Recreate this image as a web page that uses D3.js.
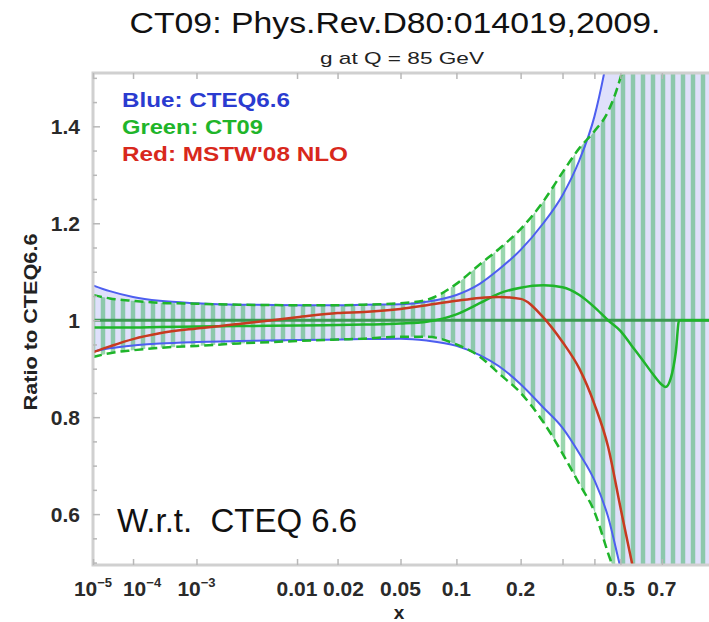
<!DOCTYPE html>
<meta charset="utf-8">
<script src="https://d3js.org/d3.v7.min.js"></script>
<style>
  body { margin: 0; background: #fff; }
  text { font-family: "Liberation Sans", Arial, sans-serif; }
</style>
<div id="my_dataviz"></div>
<script>

// x grid shared by every curve
const xs = [1e-5, 3e-5, 1e-4, 3e-4, 1e-3, 3e-3, 0.01, 0.02, 0.03, 0.05, 0.07, 0.1, 0.13, 0.16, 0.2,
            0.25, 0.3, 0.35, 0.4, 0.45, 0.5, 0.55, 0.6, 0.65, 0.7, 0.72, 0.75, 0.78, 0.8, 0.9, 1.0];

// CTEQ6.6 error band (blue)
const cteqUp = [1.072, 1.06, 1.048, 1.04, 1.035, 1.032, 1.031, 1.031, 1.032, 1.033, 1.038, 1.052, 1.075, 1.105, 1.145,
                1.2, 1.258, 1.33, 1.42, 1.55, 1.7, 1.85, 2.0, 2.1, 2.2, 2.2, 2.3, 2.3, 2.4, 2.5, 2.6];
const cteqLo = [0.935, 0.942, 0.948, 0.952, 0.955, 0.957, 0.959, 0.96, 0.961, 0.962, 0.958, 0.947, 0.928, 0.905, 0.868,
                0.82, 0.778, 0.725, 0.67, 0.595, 0.49, 0.4, 0.3, 0.2, 0.1, 0.1, 0.0, 0.0, 0.0, 0.0, 0.0];

// CT09 error band (green) and central value
const ct09Up = [1.052, 1.045, 1.04, 1.036, 1.034, 1.032, 1.031, 1.031, 1.032, 1.035, 1.042, 1.075, 1.115, 1.147, 1.188,
                1.245, 1.305, 1.355, 1.39, 1.43, 1.5, 1.6, 1.7, 1.8, 1.9, 1.9, 2.0, 2.0, 2.0, 2.0, 2.0];
const ct09Lo = [0.924, 0.932, 0.938, 0.943, 0.947, 0.952, 0.957, 0.96, 0.962, 0.966, 0.966, 0.95, 0.925, 0.89, 0.85,
                0.79, 0.725, 0.662, 0.605, 0.52, 0.44, 0.3, 0.2, 0.1, 0.0, 0.0, 0.0, 0.0, 0.0, 0.0, 0.0];
const ct09 = [0.985, 0.985, 0.985, 0.986, 0.987, 0.988, 0.989, 0.99, 0.991, 0.993, 0.997, 1.012, 1.035, 1.055, 1.067,
              1.072, 1.068, 1.052, 1.027, 1.0, 0.978, 0.947, 0.918, 0.89, 0.867, 0.862, 0.88, 0.935, 1.0, 1.0, 1.0];

// MSTW'08 NLO central value (red)
const mstw = [0.934, 0.946, 0.961, 0.973, 0.983, 0.992, 1.006, 1.015, 1.017, 1.023, 1.031, 1.04, 1.046, 1.048, 1.044,
              1.006, 0.955, 0.9, 0.827, 0.74, 0.614, 0.5, 0.4, 0.3, 0.2, 0.2, 0.1, 0.1, 0.1, 0.1, 0.1];

// axes
const xTicks = [1e-5, 1e-4, 1e-3, 0.01, 0.02, 0.05, 0.1, 0.2, 0.3, 0.4, 0.5, 0.7];
const xTickLabels = ["10^-5", "10^-4", "10^-3", "0.01", "0.02", "0.05", "0.1", "0.2", "", "", "0.5", "0.7"];
const yMajor = [0.6, 0.8, 1, 1.2, 1.4];
const yMinor = [0.5, 0.55, 0.65, 0.7, 0.75, 0.85, 0.9, 0.95, 1.05, 1.1, 1.15, 1.25, 1.3, 1.35, 1.45, 1.5];

const legendLabels = ["Blue: CTEQ6.6", "Green: CT09", "Red: MSTW'08 NLO"];
const legendColors = ["#2a3bd0", "#1fb52a", "#d8281c"];

const width = 709, height = 622;
const margin = {top: 73, right: 0, bottom: 57, left: 93};

const svg = d3.select("#my_dataviz")
  .append("svg")
    .attr("width", width)
    .attr("height", height);

// x is drawn on an x^0.2 scale
const x = d3.scalePow().exponent(0.2)
  .domain([1e-5, 1])
  .range([margin.left, width - margin.right]);
const y = d3.scaleLinear()
  .domain([0.495, 1.51])
  .range([height - margin.bottom, margin.top]);

const defs = svg.append("defs");
defs.append("clipPath").attr("id", "plotclip")
  .append("rect")
    .attr("x", margin.left).attr("y", margin.top)
    .attr("width", width - margin.left - margin.right)
    .attr("height", height - margin.top - margin.bottom);

const pat = defs.append("pattern")
    .attr("id", "hatch")
    .attr("patternUnits", "userSpaceOnUse")
    .attr("width", 10).attr("height", 20);
pat.append("line")
    .attr("x1", 3).attr("x2", 3).attr("y1", 0).attr("y2", 20)
    .attr("stroke", "#46b46c").attr("stroke-opacity", 0.55).attr("stroke-width", 4.5);

const plot = svg.append("g").attr("clip-path", "url(#plotclip)");
const idx = d3.range(xs.length);

const band = (lo, hi) => d3.area()
  .x(i => x(xs[i]))
  .y0(i => y(lo[i]))
  .y1(i => y(hi[i]))
  .curve(d3.curveMonotoneX);
const line = vals => d3.line()
  .x(i => x(xs[i]))
  .y(i => y(vals[i]))
  .curve(d3.curveMonotoneX);

// blue band
plot.append("path")
  .attr("d", band(cteqLo, cteqUp)(idx))
  .attr("fill", "#dfe0fb");

// green hatched band
plot.append("path")
  .attr("d", band(ct09Lo, ct09Up)(idx))
  .attr("fill", "url(#hatch)");

// reference line at 1
plot.append("line")
  .attr("x1", x(1e-5)).attr("x2", x(1))
  .attr("y1", y(1)).attr("y2", y(1))
  .attr("stroke", "#3c9a50").attr("stroke-width", 3);

// blue band edges
[cteqUp, cteqLo].forEach(v => {
  plot.append("path")
    .attr("d", line(v)(idx))
    .attr("fill", "none")
    .attr("stroke", "#4d5ef0")
    .attr("stroke-width", 2);
});

// green band edges (dashed)
[ct09Up, ct09Lo].forEach(v => {
  plot.append("path")
    .attr("d", line(v)(idx))
    .attr("fill", "none")
    .attr("stroke", "#1fb52a")
    .attr("stroke-width", 2.5)
    .attr("stroke-dasharray", "9,5");
});

// central curves
plot.append("path")
  .attr("d", line(ct09)(idx))
  .attr("fill", "none")
  .attr("stroke", "#1fb52a")
  .attr("stroke-width", 2.5);

plot.append("path")
  .attr("d", line(mstw)(idx))
  .attr("fill", "none")
  .attr("stroke", "#c83a20")
  .attr("stroke-width", 2.5);

// frame
svg.append("rect")
  .attr("x", margin.left).attr("y", margin.top)
  .attr("width", width - margin.left - margin.right + 2)
  .attr("height", height - margin.top - margin.bottom)
  .attr("fill", "none")
  .attr("stroke", "#d0d0d0")
  .attr("stroke-width", 3);

// ticks
const tickStyle = g => {
  g.select(".domain").remove();
  g.selectAll("line").attr("stroke", "#b8b8b8").attr("stroke-width", 1.5);
  g.selectAll("text").remove();
};
svg.append("g")
  .attr("transform", `translate(0,${height - margin.bottom})`)
  .call(d3.axisBottom(x).tickValues(xTicks).tickSize(-6))
  .call(tickStyle);
svg.append("g")
  .attr("transform", `translate(0,${margin.top})`)
  .call(d3.axisTop(x).tickValues(xTicks).tickSize(-6))
  .call(tickStyle);
svg.append("g")
  .attr("transform", `translate(${margin.left},0)`)
  .call(d3.axisLeft(y).tickValues(yMajor).tickSize(-7))
  .call(tickStyle);
svg.append("g")
  .attr("transform", `translate(${margin.left},0)`)
  .call(d3.axisLeft(y).tickValues(yMinor).tickSize(-4))
  .call(tickStyle);

// x tick labels (a couple are pushed right where they would collide)
const nudge = {"10^-4": 9, "0.02": 6};
const xl = svg.append("g").attr("fill", "#2a2a2a").attr("font-size", 21).attr("font-weight", "bold");
xTicks.forEach((t, i) => {
  const lab = xTickLabels[i];
  if (!lab) return;
  const tx = xl.append("text")
    .attr("x", x(t) + (nudge[lab] || 0))
    .attr("y", 596)
    .attr("text-anchor", "middle");
  if (lab.startsWith("10^")) {
    tx.append("tspan").text("10");
    tx.append("tspan").attr("dy", -9).attr("font-size", 13).text("\u2212" + lab.slice(4));
  } else {
    tx.text(lab);
  }
});

// y tick labels
svg.append("g").attr("fill", "#2a2a2a").attr("font-size", 21).attr("font-weight", "bold")
  .selectAll("text")
  .data(yMajor)
  .join("text")
    .attr("x", 80)
    .attr("y", d => y(d) + 8)
    .attr("text-anchor", "end")
    .text(d => d3.format("")(d));

// axis titles
svg.append("text")
  .attr("x", 399).attr("y", 619)
  .attr("text-anchor", "middle")
  .attr("font-size", 19).attr("font-weight", "bold")
  .attr("fill", "#222")
  .text("x");

svg.append("text")
  .attr("transform", "translate(37,322) rotate(-90)")
  .attr("text-anchor", "middle")
  .attr("font-size", 18).attr("font-weight", "bold")
  .attr("fill", "#222")
  .attr("textLength", 177).attr("lengthAdjust", "spacingAndGlyphs")
  .text("Ratio to CTEQ6.6");

// titles
svg.append("text")
  .attr("x", 395).attr("y", 33)
  .attr("text-anchor", "middle")
  .attr("font-size", 30)
  .attr("fill", "#111")
  .attr("textLength", 531).attr("lengthAdjust", "spacingAndGlyphs")
  .text("CT09: Phys.Rev.D80:014019,2009.");

svg.append("text")
  .attr("x", 402).attr("y", 64)
  .attr("text-anchor", "middle")
  .attr("font-size", 17)
  .attr("fill", "#222")
  .attr("textLength", 164).attr("lengthAdjust", "spacingAndGlyphs")
  .text("g at Q = 85 GeV");

// legend
const legendWidths = [168, 141, 226];
legendLabels.forEach((lab, i) => {
  svg.append("text")
    .attr("x", 122).attr("y", 107 + i * 27)
    .attr("font-size", 20).attr("font-weight", "bold")
    .attr("fill", legendColors[i])
    .attr("textLength", legendWidths[i]).attr("lengthAdjust", "spacingAndGlyphs")
    .text(lab);
});

svg.append("text")
  .attr("x", 117).attr("y", 532)
  .attr("font-size", 33)
  .attr("fill", "#111")
  .attr("xml:space", "preserve")
  .text("W.r.t.  CTEQ 6.6");

</script>
